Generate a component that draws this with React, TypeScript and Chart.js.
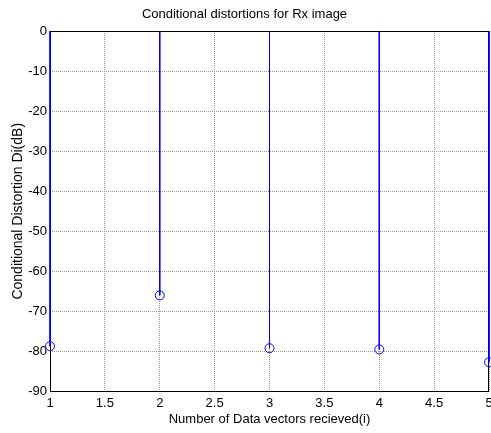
import React, { useEffect, useRef } from "react";
import { Chart, registerables } from "chart.js";

Chart.register(...registerables);

const xValues = [1, 2, 3, 4, 5];
const yValues = [-78.7, -66, -79.2, -79.5, -82.7];
const xRange = [1, 5];
const yRange = [-90, 0];
const xStep = 0.5;
const yStep = 10;

const titleText = "Conditional distortions for Rx image";
const xTitle = "Number of Data vectors recieved(i)";
const yTitle = "Conditional Distortion Di(dB)";

const FONT = "'Liberation Sans', Arial, sans-serif";

const boxPlugin = {
  id: "matlabBox",
  beforeDatasetsDraw(chart: any) {
    const { ctx, chartArea } = chart;
    const l = Math.round(chartArea.left) + 0.5;
    const t = Math.round(chartArea.top) + 0.5;
    const r = Math.round(chartArea.right) - 0.5;
    const b = Math.round(chartArea.bottom) - 0.5;
    ctx.save();
    ctx.strokeStyle = "#000";
    ctx.lineWidth = 1;
    ctx.strokeRect(l, t, r - l, b - t);
    ctx.restore();
  },
};

export default function App() {
  const ref = useRef<HTMLCanvasElement | null>(null);

  useEffect(() => {
    if (!ref.current) return;
    const stems: any[] = [];
    xValues.forEach((x, i) => {
      stems.push({ x, y: 0 });
      stems.push({ x, y: yValues[i] });
      stems.push({ x, y: null });
    });
    const markers = xValues.map((x, i) => ({ x, y: yValues[i] }));

    const chart = new Chart(ref.current, {
      type: "scatter",
      data: {
        datasets: [
          {
            data: stems,
            showLine: true,
            spanGaps: false,
            borderColor: "#0000ff",
            borderWidth: 1,
            pointRadius: 0,
            clip: false as any,
          },
          {
            data: markers,
            showLine: false,
            pointRadius: 4.5,
            pointBorderColor: "#0000ff",
            pointBackgroundColor: "rgba(0,0,0,0)",
            pointBorderWidth: 1,
            clip: false as any,
          },
        ],
      },
      options: {
        animation: false,
        responsive: false,
        layout: { autoPadding: false, padding: { left: 0, right: 2, top: 0, bottom: 0 } } as any,
        plugins: {
          legend: { display: false },
          tooltip: { enabled: false },
          title: {
            display: true,
            text: titleText,
            color: "#000",
            font: { family: FONT, size: 13, weight: "normal" },
            padding: { top: 7, bottom: 8.4 },
          },
        },
        scales: {
          x: {
            type: "linear",
            min: xRange[0],
            max: xRange[1],
            ticks: {
              stepSize: xStep,
              color: "#000",
              padding: 4,
              font: { family: FONT, size: 13 },
              maxRotation: 0,
              callback: (v: any) => String(v),
            },
            grid: { color: "#999", drawTicks: false, lineWidth: 1 },
            border: { display: false, dash: [1, 1] },
            title: {
              display: true,
              text: xTitle,
              color: "#000",
              font: { family: FONT, size: 13 },
              padding: { top: 0, bottom: 6 },
            },
            afterFit(scale: any) {
              scale.height = 41.5;
              scale.paddingLeft = 0;
              scale.paddingRight = 0;
            },
          },
          y: {
            type: "linear",
            min: yRange[0],
            max: yRange[1],
            ticks: {
              stepSize: yStep,
              color: "#000",
              padding: 3,
              font: { family: FONT, size: 13 },
              callback: (v: any) => String(v),
            },
            grid: { color: "#999", drawTicks: false, lineWidth: 1 },
            border: { display: false, dash: [1, 1] },
            title: {
              display: true,
              text: yTitle,
              color: "#000",
              font: { family: FONT, size: 14 },
              padding: { top: 10, bottom: 0 },
            },
            afterFit(scale: any) {
              scale.width = 50;
            },
          },
        },
      },
      plugins: [boxPlugin],
    });
    return () => chart.destroy();
  }, []);

  return (
    <div style={{ position: "absolute", left: 0, top: 0, width: 491, height: 433, background: "#fff" }}>
      <canvas ref={ref} width={491} height={433} />
    </div>
  );
}
